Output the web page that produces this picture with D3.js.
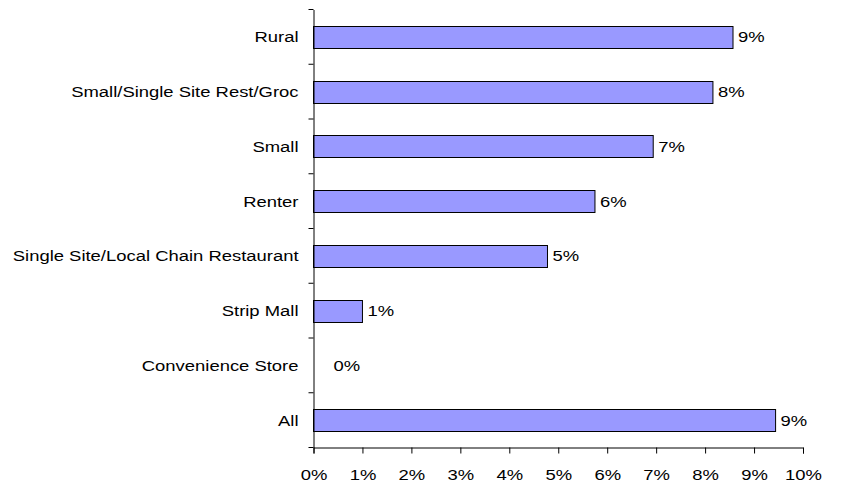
<!DOCTYPE html>
<html>
<head>
<meta charset="utf-8">
<script src="https://cdn.jsdelivr.net/npm/d3@7"></script>
<style>
  html, body { margin: 0; padding: 0; background: #fff; }
  svg { display: block; font-family: "Liberation Sans", Arial, sans-serif; }
  svg text { font-size: 15.5px; fill: #000; }
</style>
</head>
<body>
<svg id="chart" width="849" height="483"></svg>
<script>
// Share of sites by segment (percent)
const categories = [
  "Rural",
  "Small/Single Site Rest/Groc",
  "Small",
  "Renter",
  "Single Site/Local Chain Restaurant",
  "Strip Mall",
  "Convenience Store",
  "All"
];
const values = [8.57, 8.16, 6.94, 5.75, 4.78, 1.0, 0.0, 9.44];
const valueLabels = ["9%", "8%", "7%", "6%", "5%", "1%", "0%", "9%"];
const xTicks = [0, 1, 2, 3, 4, 5, 6, 7, 8, 9, 10];

const svg = d3.select("#chart");
const margin = { left: 313.5, right: 46, top: 9.5, bottom: 35.5 };
const W = 849, H = 483;
const stretch = 1.19;   // wide lettering

const x = d3.scaleLinear().domain([0, 10]).range([margin.left, W - margin.right]);
const y = d3.scaleBand().domain(categories).range([margin.top, H - margin.bottom])
  .paddingInner(0.6).paddingOuter(0.3);

const rows = categories.map((c, i) => ({ c, v: values[i], label: valueLabels[i] }));

// bars
svg.append("g").selectAll("rect")
  .data(rows.filter(d => d.v > 0))
  .join("rect")
  .attr("x", x(0))
  .attr("y", d => Math.round(y(d.c)) + 0.5)
  .attr("width", d => x(d.v) - x(0))
  .attr("height", Math.round(y.bandwidth()))
  .attr("fill", "#9999ff")
  .attr("stroke", "#000")
  .attr("stroke-width", 1);

// value labels
svg.append("g").selectAll("g")
  .data(rows)
  .join("g")
  .attr("transform", d => `translate(${d.v > 0 ? x(d.v) + 5 : x(0) + 20},${y(d.c) + y.bandwidth() / 2})`)
  .append("text")
  .attr("transform", `scale(${stretch},1)`)
  .attr("dy", "0.36em")
  .text(d => d.label);

// y axis
const yAxis = d3.axisLeft(y).tickSize(0).tickPadding(15);
const gy = svg.append("g").attr("transform", `translate(${margin.left},0)`).call(yAxis);
gy.attr("font-size", null).attr("font-family", null);
gy.select(".domain").attr("stroke", "#000");
gy.selectAll(".tick text")
  .attr("x", -15 / stretch)
  .attr("dy", "0.36em")
  .attr("transform", `scale(${stretch},1)`);
// category separator ticks
const bounds = d3.range(categories.length + 1)
  .map(i => margin.top + i * (H - margin.bottom - margin.top) / categories.length);
gy.selectAll("line.sep").data(bounds).join("line")
  .attr("class", "sep")
  .attr("x1", -5).attr("x2", 0)
  .attr("y1", d => d).attr("y2", d => d)
  .attr("stroke", "#000");

// x axis
const xAxis = d3.axisBottom(x).tickValues(xTicks).tickFormat(d => d + "%").tickSize(6).tickPadding(16);
const gx = svg.append("g").attr("transform", `translate(0,${H - margin.bottom})`).call(xAxis);
gx.attr("font-size", null).attr("font-family", null);
gx.select(".domain").attr("stroke", "#000");
gx.selectAll("line").attr("stroke", "#000");
gx.selectAll(".tick text")
  .attr("x", 0)
  .attr("transform", `scale(${stretch},1)`);
</script>
</body>
</html>
